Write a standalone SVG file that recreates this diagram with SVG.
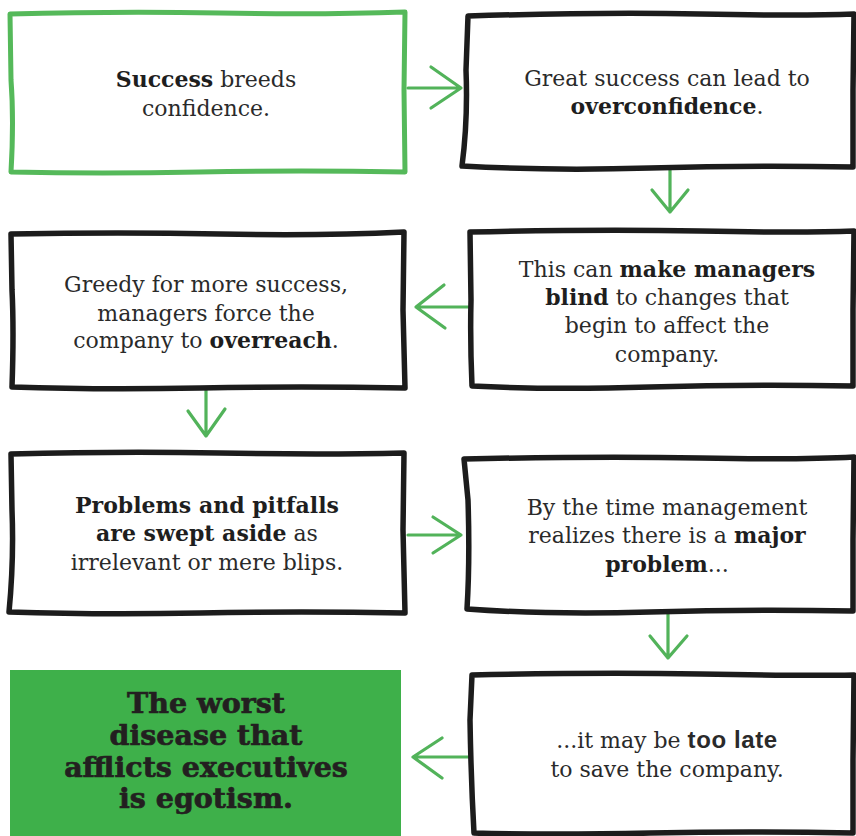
<svg xmlns="http://www.w3.org/2000/svg" width="856" height="836" viewBox="0 0 856 836">
<defs>
<style>
.box{fill:#ffffff;stroke:#1c1c1c;stroke-width:5.5;stroke-linejoin:round;stroke-linecap:round}
.gbox{fill:#ffffff;stroke:#55b95a;stroke-width:5;stroke-linejoin:round}
.fill{fill:#3eb04a}
.t{font-family:"DejaVu Serif","Liberation Serif",serif;font-size:22px;fill:#2a2a2a;text-anchor:middle}
.b{font-weight:bold;fill:#1e1e1e}
.s{font-family:"Liberation Sans",Arial,sans-serif;font-weight:bold;font-size:24px;letter-spacing:0.6px}
.big{font-family:"DejaVu Serif","Liberation Serif",serif;font-weight:bold;font-size:28.5px;fill:#231f20;stroke:#231f20;stroke-width:0.7;text-anchor:middle}
.arr{fill:none;stroke:#52b35a;stroke-width:3.2;stroke-linecap:round;stroke-linejoin:round}
</style>
</defs>
<rect width="856" height="836" fill="#ffffff"/>

<g id="connectors">
  <path class="arr" d="M408 88 L461 88 M431 67 L461 88 L431 108"/>
  <path class="arr" d="M670 169 L670 212 M652 190 L670 212 L688 190"/>
  <path class="arr" d="M470 307 L416 307 M444 285 L416 307 L445 328"/>
  <path class="arr" d="M206 388 L206 436 M188 411 L206 436 L225 409"/>
  <path class="arr" d="M408 535 L461 535 M433 517 L461 535 L433 553"/>
  <path class="arr" d="M668 613 L668 658 M650 636 L668 658 L687 636"/>
  <path class="arr" d="M470 757 L413 757 M442 738 L413 757 L442 778"/>
</g>

<g id="n1">
  <path class="gbox" d="M10 14 Q120 11 220 13 T405 12 L404 90 L405 172 Q300 170 200 172 T11 172 Q14 120 11 80 Z"/>
  <text class="t" x="206" y="87"><tspan class="b">Success</tspan> breeds</text>
  <text class="t" x="206" y="116">confidence.</text>
</g>

<g id="n2">
  <path class="box" d="M468 16 Q600 12 700 14 T854 14 L853 90 L853 167 Q750 165 650 168 T462 166 Q468 120 466 70 Z"/>
  <text class="t" x="667" y="86">Great success can lead to</text>
  <text class="t" x="667" y="114"><tspan class="b">overconfidence</tspan>.</text>
</g>

<g id="n4">
  <path class="box" d="M470 232 Q600 229 700 231 T854 231 L853 310 L853 386 Q750 384 650 387 T472 386 Q470 340 471 300 Z"/>
  <text class="t" x="667" y="277">This can <tspan class="b">make managers</tspan></text>
  <text class="t" x="667" y="305"><tspan class="b">blind</tspan> to changes that</text>
  <text class="t" x="667" y="333">begin to affect the</text>
  <text class="t" x="667" y="362">company.</text>
</g>

<g id="n3">
  <path class="box" d="M11 234 Q120 232 220 234 T404 232 L403 310 L405 388 Q300 386 200 388 T12 387 Q14 330 12 290 Z"/>
  <text class="t" x="206" y="292">Greedy for more success,</text>
  <text class="t" x="206" y="321">managers force the</text>
  <text class="t" x="206" y="348">company to <tspan class="b">overreach</tspan>.</text>
</g>

<g id="n5">
  <path class="box" d="M11 454 Q120 451 220 453 T404 453 L403 530 L405 613 Q300 611 200 613 T9 612 Q14 560 12 510 Z"/>
  <text class="t" x="207" y="513"><tspan class="b">Problems and pitfalls</tspan></text>
  <text class="t" x="207" y="541"><tspan class="b">are swept aside</tspan> as</text>
  <text class="t" x="207" y="570">irrelevant or mere blips.</text>
</g>

<g id="n6">
  <path class="box" d="M464 459 Q600 456 700 458 T854 457 L853 540 L853 611 Q750 609 650 612 T467 609 Q470 560 468 500 Z"/>
  <text class="t" x="667" y="515">By the time management</text>
  <text class="t" x="667" y="543">realizes there is a <tspan class="b">major</tspan></text>
  <text class="t" x="667" y="572"><tspan class="b">problem</tspan>...</text>
</g>

<g id="n7">
  <rect class="fill" x="10" y="670" width="391" height="166"/>
  <text class="big" x="206" y="713">The worst</text>
  <text class="big" x="206" y="745">disease that</text>
  <text class="big" x="206" y="777">afflicts executives</text>
  <text class="big" x="206" y="808">is egotism.</text>
</g>

<g id="n8">
  <path class="box" d="M472 675 Q600 672 700 674 T854 675 L853 760 L853 833 Q750 831 650 833 T474 833 Q471 780 470 720 Z"/>
  <text class="t" x="667" y="748">...it may be <tspan class="s">too late</tspan></text>
  <text class="t" x="667" y="777">to save the company.</text>
</g>
</svg>
